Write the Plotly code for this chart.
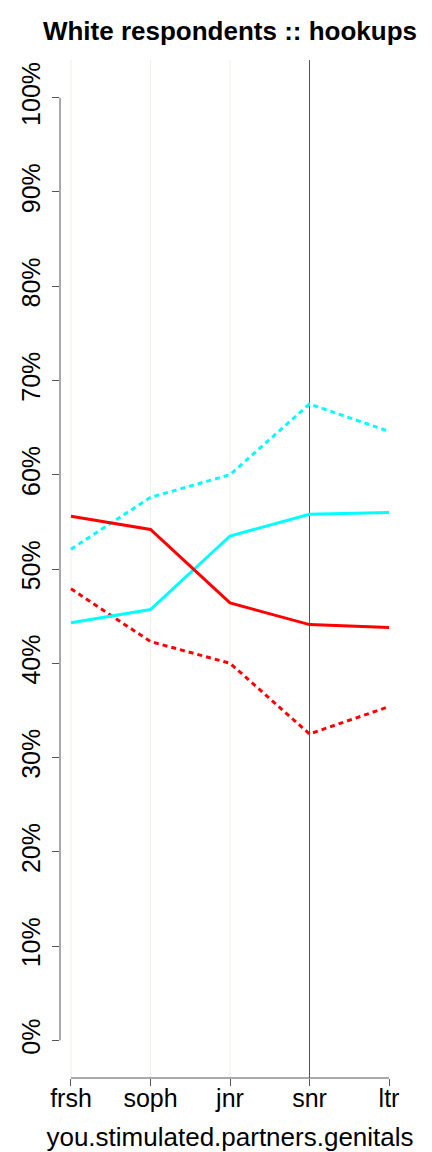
import plotly.graph_objects as go

# class year on the x axis
years = ["frsh", "soph", "jnr", "snr", "ltr"]

# percent of respondents
red_solid = [55.6, 54.2, 46.4, 44.1, 43.8]
cyan_solid = [44.3, 45.7, 53.5, 55.8, 56.0]
cyan_dotted = [52.1, 57.6, 60.0, 67.5, 64.6]
red_dotted = [47.9, 42.3, 40.0, 32.5, 35.4]

y_ticks = list(range(0, 101, 10))
y_labels = [f"{v}%" for v in y_ticks]

# vertical guide lines: (year, colour)
guides = [("frsh", "#F2F0E0"), ("soph", "#F2F0E0"), ("jnr", "#F2F0E0"), ("snr", "#555555")]

pos = list(range(1, len(years) + 1))
font = "Liberation Sans, Arial, Helvetica, sans-serif"

fig = go.Figure()

for ys, color, dash in [
    (cyan_dotted, "#00FFFF", "5px,4px"),
    (red_dotted, "#FF0000", "5px,4px"),
    (cyan_solid, "#00FFFF", "solid"),
    (red_solid, "#FF0000", "solid"),
]:
    fig.add_trace(
        go.Scatter(
            x=pos,
            y=ys,
            mode="lines",
            line=dict(color=color, width=3, dash=dash),
            showlegend=False,
            hoverinfo="skip",
        )
    )

shapes = []
for name, color in guides:
    xv = years.index(name) + 1
    shapes.append(
        dict(type="line", xref="x", yref="paper", x0=xv, x1=xv, y0=0, y1=1,
             line=dict(color=color, width=1), layer="below")
    )
# R-style axis lines that only span first to last tick
shapes.append(
    dict(type="line", xref="paper", yref="y", x0=0, x1=0, y0=y_ticks[0], y1=y_ticks[-1],
         line=dict(color="#555555", width=1))
)
shapes.append(
    dict(type="line", xref="x", yref="paper", x0=pos[0], x1=pos[-1], y0=0, y1=0,
         line=dict(color="#555555", width=1))
)

fig.update_layout(
    width=432,
    height=1152,
    margin=dict(l=60, r=32, t=60, b=74, autoexpand=False),
    paper_bgcolor="white",
    plot_bgcolor="white",
    shapes=shapes,
    title=dict(
        text="<b>White respondents :: hookups</b>",
        x=230 / 432,
        xanchor="center",
        y=1 - 31 / 1152,
        yanchor="middle",
        font=dict(family=font, size=26, color="black"),
    ),
    font=dict(family=font, color="black"),
)

fig.update_xaxes(
    range=[0.862, 5.138],
    tickvals=pos,
    ticktext=years,
    ticks="outside",
    ticklen=7,
    tickcolor="#555555",
    tickfont=dict(size=25),
    ticklabelstandoff=-9,
    showgrid=False,
    zeroline=False,
    showline=False,
    automargin=False,
    title=dict(text="you.stimulated.partners.genitals", font=dict(size=26), standoff=21),
)
fig.update_yaxes(
    range=[-4, 104],
    tickvals=y_ticks,
    ticktext=y_labels,
    tickangle=-90,
    ticks="outside",
    ticklen=7,
    tickcolor="#555555",
    tickfont=dict(size=25),
    ticklabelstandoff=2,
    showgrid=False,
    zeroline=False,
    showline=False,
    automargin=False,
)

# drop the page's default body margin so the figure sits at the window corner
fig.write_html(
    "out.html",
    config={"displayModeBar": False},
    post_script="document.body.style.margin='0';",
)
